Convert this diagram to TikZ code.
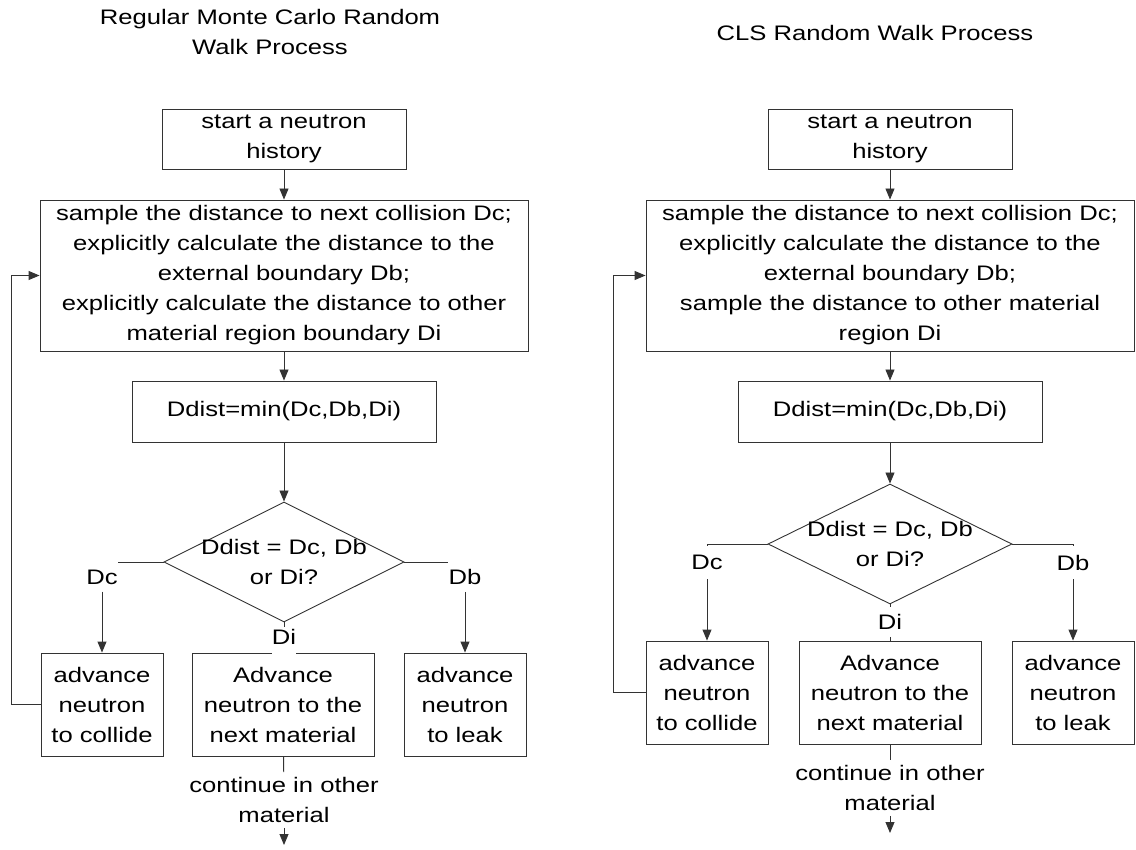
\documentclass[tikz,border=0pt]{standalone}
\usepackage{fontspec}
\setmainfont{Liberation Sans}[FakeStretch=1.22]
\usepackage{tikz}
\usetikzlibrary{arrows.meta, shapes.geometric}

\begin{document}
\begin{tikzpicture}[
    x=1pt, y=-1pt,
    every node/.style={font=\fontsize{21pt}{30pt}\selectfont},
    titletext/.style={align=center},
    box/.style={rectangle, draw=black!80, line width=0.9pt, inner sep=0pt, align=center},
    decision/.style={diamond, draw=black!80, line width=0.9pt, inner sep=0pt},
    plain/.style={align=center, inner sep=5pt},
    lbl/.style={inner xsep=0pt, inner ysep=7pt},
    arrow/.style={line width=0.9pt, draw=black!80, -{Triangle[length=11pt, width=9pt]}},
    line/.style={line width=0.9pt, draw=black!80}
]
\useasboundingbox (0,0) rectangle (1136,850);

% Regular Monte Carlo
\node[titletext] (titleL) at (270,32) {Regular Monte Carlo Random\\Walk Process};
\node[box, minimum width=244pt, minimum height=60pt] (startL) at (284,139) {start a neutron\\history};
\node[box, minimum width=488pt, minimum height=151pt] (sampleL) at (284,275.5) {sample the distance to next collision Dc;\\explicitly calculate the distance to the\\external boundary Db;\\explicitly calculate the distance to other\\material region boundary Di};
\node[box, minimum width=304pt, minimum height=61pt] (minL) at (284,411.5) {Ddist=min(Dc,Db,Di)};
\node[decision, minimum width=240pt, minimum height=120pt] (diaL) at (284,562) {};
\node[align=center] (askL) at (diaL) {Ddist = Dc, Db\\or Di?};
\node[box, minimum width=122pt, minimum height=103pt] (collideL) at (102,704.5) {advance\\neutron\\to collide};
\node[box, minimum width=182pt, minimum height=103pt] (nextL) at (283,704.5) {Advance\\neutron to the\\next material};
\node[box, minimum width=122pt, minimum height=103pt] (leakL) at (465,704.5) {advance\\neutron\\to leak};
\node[lbl] (dcL) at (102,577) {Dc};
\node[lbl] (dbL) at (465,577) {Db};
\node[lbl, fill=white, anchor=north, inner ysep=2pt, text depth=10pt] (diL) at (284,627) {Di};
\node[plain] (contL) at (284,800) {continue in other\\material};
\coordinate (endL) at (284,845);

\draw[arrow] (startL) -- (sampleL);
\draw[arrow] (sampleL) -- (minL);
\draw[arrow] (minL) -- (diaL);
\draw[line] (diaL.west) -- (diaL.west -| dcL.east);
\draw[arrow] (dcL) -- (collideL);
\draw[line] (diaL.east) -- (diaL.east -| dbL.west);
\draw[arrow] (dbL) -- (leakL);
\draw[line] (diaL) -- (diL);
\draw[arrow] (collideL.west) -- ++(-29,0) |- (sampleL.west);
\draw[line] (nextL) -- (contL);
\draw[arrow] (contL) -- (endL);

% CLS
\node[titletext] (titleR) at (875,33) {CLS Random Walk Process};
\node[box, minimum width=244pt, minimum height=60pt] (startR) at (890,139) {start a neutron\\history};
\node[box, minimum width=488pt, minimum height=151pt] (sampleR) at (890,275.5) {sample the distance to next collision Dc;\\explicitly calculate the distance to the\\external boundary Db;\\sample the distance to other material\\region Di};
\node[box, minimum width=304pt, minimum height=61pt] (minR) at (890,411.5) {Ddist=min(Dc,Db,Di)};
\node[decision, minimum width=244pt, minimum height=120pt] (diaR) at (890,544) {};
\node[align=center] (askR) at (diaR) {Ddist = Dc, Db\\or Di?};
\node[box, minimum width=122pt, minimum height=103pt] (collideR) at (707,692.5) {advance\\neutron\\to collide};
\node[box, minimum width=182pt, minimum height=103pt] (nextR) at (890,692.5) {Advance\\neutron to the\\next material};
\node[box, minimum width=122pt, minimum height=103pt] (leakR) at (1073,692.5) {advance\\neutron\\to leak};
\node[lbl, inner ysep=9pt] (dcR) at (707,562.5) {Dc};
\node[lbl, inner ysep=9pt] (dbR) at (1073,562.5) {Db};
\node[lbl] (diR) at (890,622) {Di};
\node[plain] (contR) at (890,788) {continue in other\\material};
\coordinate (endR) at (890,833);

\draw[arrow] (startR) -- (sampleR);
\draw[arrow] (sampleR) -- (minR);
\draw[arrow] (minR) -- (diaR);
\draw[line] (diaR.west) -| (dcR.north);
\draw[arrow] (dcR) -- (collideR);
\draw[line] (diaR.east) -| (dbR.north);
\draw[arrow] (dbR) -- (leakR);
\draw[line] (diaR) -- (diR);
\draw[line] (diR) -- (nextR);
\draw[arrow] (collideR.west) -- ++(-32,0) |- (sampleR.west);
\draw[line] (nextR) -- (contR);
\draw[arrow] (contR) -- (endR);

\end{tikzpicture}
\end{document}
